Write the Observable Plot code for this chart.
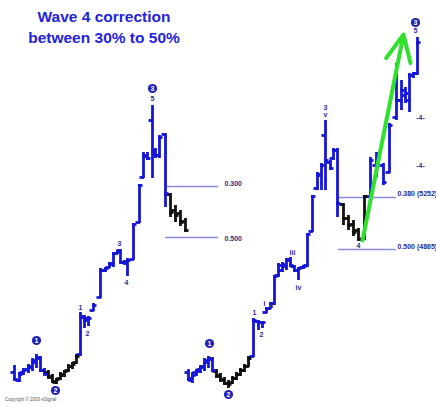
<!DOCTYPE html>
<html><head><meta charset="utf-8">
<script src="https://cdn.jsdelivr.net/npm/d3@7"></script>
<script src="https://cdn.jsdelivr.net/npm/@observablehq/plot@0.6"></script>
<style>
body{margin:0;background:#fff;}
#wrap{position:relative;width:436px;height:407px;}
#title{position:absolute;left:0;top:6px;width:208px;text-align:center;font-family:"Liberation Sans",Arial,sans-serif;font-weight:bold;font-size:15.5px;line-height:21px;color:#2323d8;}
#copy{position:absolute;left:5px;top:397px;font-family:"Liberation Sans",Arial,sans-serif;font-size:4.5px;color:#555;}
</style></head>
<body><div id="wrap"><div id="chart"></div><div id="title">Wave 4 correction<br>between 30% to 50%</div><div id="copy">Copyright © 2003 eSignal</div></div>
<script>
// Left chart (wave 4 retracing 30%..50%)
const leftX     = [14,19,23,28,32,36,40,44,48,52,56,60,64,68,72,76,80,84,88,93,100,105,109,113,117,120,124,127,133,139,143,147,152,155,159,165,170,175,180,185];
const leftOpen  = [28,20,28,31,33,40,42,30,28,24,18,22,25,30,34,38,46,83,82,90,103,130,133,136,147,150,138,138,141,178,223,244,280,247,245,266,206,190,187,179];
const leftHigh  = [35,28,32,36,42,46,44,32,30,26,22,28,30,36,38,46,88,85,84,97,132,133,138,148,150,151,140,142,177,216,248,248,295,252,265,267,207,195,190,182];
const leftLow   = [20,18,25,27,29,32,28,25,22,18,16,20,23,28,31,36,44,72,74,89,102,128,132,133,146,137,136,124,140,177,222,240,222,242,242,193,183,178,174,168];
const leftClose = [21,26,30,34,38,43,30,26,23,19,21,26,29,34,36,44,84,80,82,95,130,132,137,147,149,138,137,140,176,215,245,242,250,245,263,207,188,185,178,170];
const leftKind  = ("w".repeat(8)+"c".repeat(8)+"w".repeat(20)+"c".repeat(4)).split("");
// Right chart (wave 4 completed, wave 5 up)
const rightX     = [188,192,196,200,204,208,212,216,220,224,228,232,236,240,244,248,253,258,262,266,270,274,278,282,286,290,294,298,303,307,312,317,321,325,330,333,337,343,348,353,358,364,370,376,383,389,396,401,405,409,413,417];
const rightOpen  = [28,20,28,31,34,40,41,29,25,21,17,18,22,26,30,34,44,79,78,88,92,97,125,130,134,141,134,130,133,135,169,212,225,265,238,242,250,196,182,176,170,162,204,235,235,228,283,300,305,300,325,327];
const rightHigh  = [31,28,31,35,42,44,43,31,27,23,20,24,28,32,36,44,82,80,79,93,98,125,137,138,142,143,135,133,135,167,205,228,237,280,240,252,252,197,185,180,172,205,243,248,237,277,337,320,313,327,328,363];
const rightLow   = [19,17,24,27,29,32,28,23,19,15,12,16,20,24,28,33,43,70,72,87,91,95,123,128,130,133,128,120,131,133,168,210,210,210,230,240,183,175,170,164,160,160,203,223,215,227,280,290,297,288,322,325];
const rightClose = [22,25,29,33,38,42,30,24,20,17,16,22,26,30,34,42,80,78,78,92,97,124,135,136,140,135,130,132,134,166,204,226,235,240,232,250,197,182,175,168,161,204,240,237,218,275,300,310,307,325,327,358];
const rightKind  = ("w".repeat(7)+"c".repeat(9)+"w".repeat(21)+"c".repeat(5)+"w".repeat(10)).split("");
// Wave labels
const labelText = ["1","2","3","4","5","1","2","i","ii","iii","iv","3","v","4","5","-4-","-4-"];
const labelX    = [80,87,119,126,152,254,261,264,271,292,298,325,325,358,415,420,420];
const labelY    = [93,67,157,118,302,88,66,97,95,148,113,293,286,155,370,283,235];
// Circled degree labels
const circleText = ["1","2","3","1","2","3"];
const circleX    = [36,55,152,209,228,415];
const circleY    = [60,10,312,57,6,378];
// Fibonacci retracement levels
const fibText = ["0.300","0.500","0.380 (5252)","0.500 (4865)"];
const fibY    = [214,163,203,151];
const fibX1   = [167,165,338,338];
const fibX2   = [218,218,396,396];
const fibTextX = [224,224,397,397];
const fibTextY = [217,162,207,154];
// Wave 5 projection arrow
const arrowFrom = [362,160];
const arrowTo   = [403,366];

const mk = (X,O,H,L,C,K) => X.map((x,i)=>({x,open:O[i],high:H[i],low:L[i],close:C[i],kind:K[i]}));
const bars = [...mk(leftX,leftOpen,leftHigh,leftLow,leftClose,leftKind), ...mk(rightX,rightOpen,rightHigh,rightLow,rightClose,rightKind)];
const labels = labelText.map((t,i)=>({t,x:labelX[i],y:labelY[i]}));
const circles = circleText.map((t,i)=>({t,x:circleX[i],y:circleY[i]}));
const fibs = fibText.map((t,i)=>({t,y:fibY[i],x1:fibX1[i],x2:fibX2[i],tx:fibTextX[i],ty:fibTextY[i]}));
const arrows = [{x1:arrowFrom[0],y1:arrowFrom[1],x2:arrowTo[0],y2:arrowTo[1]}];

const T = 3.5, SW = 2.8;
const chart = Plot.plot({
  width:436, height:407, margin:0,
  x:{domain:[0,436], axis:null},
  y:{domain:[-7,400], axis:null},
  color:{domain:["w","c"], range:["#1616d8","#111111"]},
  style:{background:"#fff"},
  marks:[
    Plot.ruleY(fibs,{y:"y",x1:"x1",x2:"x2",stroke:"#8a8ae4",strokeWidth:1.5}),
    Plot.ruleX(bars,{x:"x",y1:"low",y2:"high",stroke:"kind",strokeWidth:SW}),
    Plot.ruleY(bars,{y:"open",x1:d=>d.x-T,x2:d=>d.x+1,stroke:"kind",strokeWidth:SW}),
    Plot.ruleY(bars,{y:"close",x1:d=>d.x-1,x2:d=>d.x+T,stroke:"kind",strokeWidth:SW}),
    Plot.arrow(arrows,{x1:"x1",y1:"y1",x2:"x2",y2:"y2",stroke:"#2fe02f",strokeWidth:4,headLength:11,headAngle:50}),
    Plot.text(fibs,{x:"tx",y:"ty",text:"t",textAnchor:"start",fontSize:7,fontWeight:"bold",fill:"#2a2a8a",fontFamily:"Liberation Sans"}),
    Plot.text(labels,{x:"x",y:"y",text:"t",fontSize:7,fontWeight:"bold",fill:"#2a2aa0",fontFamily:"Liberation Sans"}),
    Plot.dot(circles,{x:"x",y:"y",r:4.6,fill:"#2020b4"}),
    Plot.text(circles,{x:"x",y:"y",text:"t",fontSize:7,fontWeight:"bold",fill:"#fff",fontFamily:"Liberation Sans"})
  ]
});
document.getElementById("chart").appendChild(chart);
</script>
</body></html>
